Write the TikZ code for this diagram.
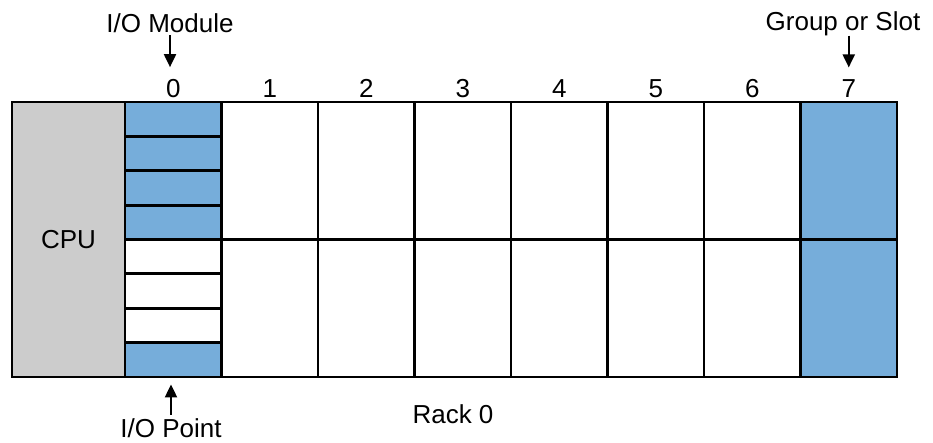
\documentclass[tikz,border=0pt]{standalone}
\usepackage{fontspec}
\setmainfont{Liberation Sans}
\usetikzlibrary{arrows.meta}
\definecolor{ioblue}{RGB}{118,173,218}
\definecolor{cpugray}{RGB}{204,204,204}

\begin{document}
\begin{tikzpicture}[x=1pt, y=-1pt, font=\fontsize{26}{31}\selectfont,
  cell/.style = {draw, line width=2.8pt, minimum width=96.5pt, inner sep=0pt},
  lbl/.style = {inner sep=0pt, anchor=base},
  arr/.style = {-{Triangle[width=12pt,length=13pt]}, line width=2pt}]
\useasboundingbox (0,0) rectangle (933,442);
% cpu
\node[cell, fill=cpugray, minimum width=113pt, minimum height=275pt] (cpu) at (68.5,239.5) {CPU};
% slot 0, one cell per point
\foreach \r/\c in {1/ioblue,2/ioblue,3/ioblue,4/ioblue,5/white,6/white,7/white,8/ioblue}
  \node[cell, fill=\c, minimum height=34.375pt] (p\r) at (173.25,{102+34.375*(\r-0.5)}) {};
% slots 1 to 7
\foreach \i/\c in {1/white,2/white,3/white,4/white,5/white,6/white,7/ioblue} {
  \node[cell, fill=\c, minimum height=137.5pt] (s\i u) at ({173.25+96.5*\i},170.75) {};
  \node[cell, fill=\c, minimum height=137.5pt] (s\i l) at ({173.25+96.5*\i},308.25) {};
}
% group numbers
\foreach \i in {0,...,7}
  \node[lbl] (n\i) at ({173.25+96.5*\i},97) {\i};
% labels
\node[lbl] (iomod) at (170,32) {I/O Module};
\node[lbl] (grp) at (843,30) {Group or Slot};
\node[lbl] (rack) at (453,423) {Rack 0};
\node[lbl] (iopt) at (171,437) {I/O Point};
\draw[arr, shorten <=3pt, shorten >=11.5pt] (iomod.south) -- (iomod.south |- n0.north);
\draw[arr, shorten >=11.5pt] (grp.south -| n7) -- (n7.north);
\draw[arr, shorten <=3pt, shorten >=6pt] (iopt.north) -- (iopt.north |- p8.south);
\end{tikzpicture}
\end{document}
